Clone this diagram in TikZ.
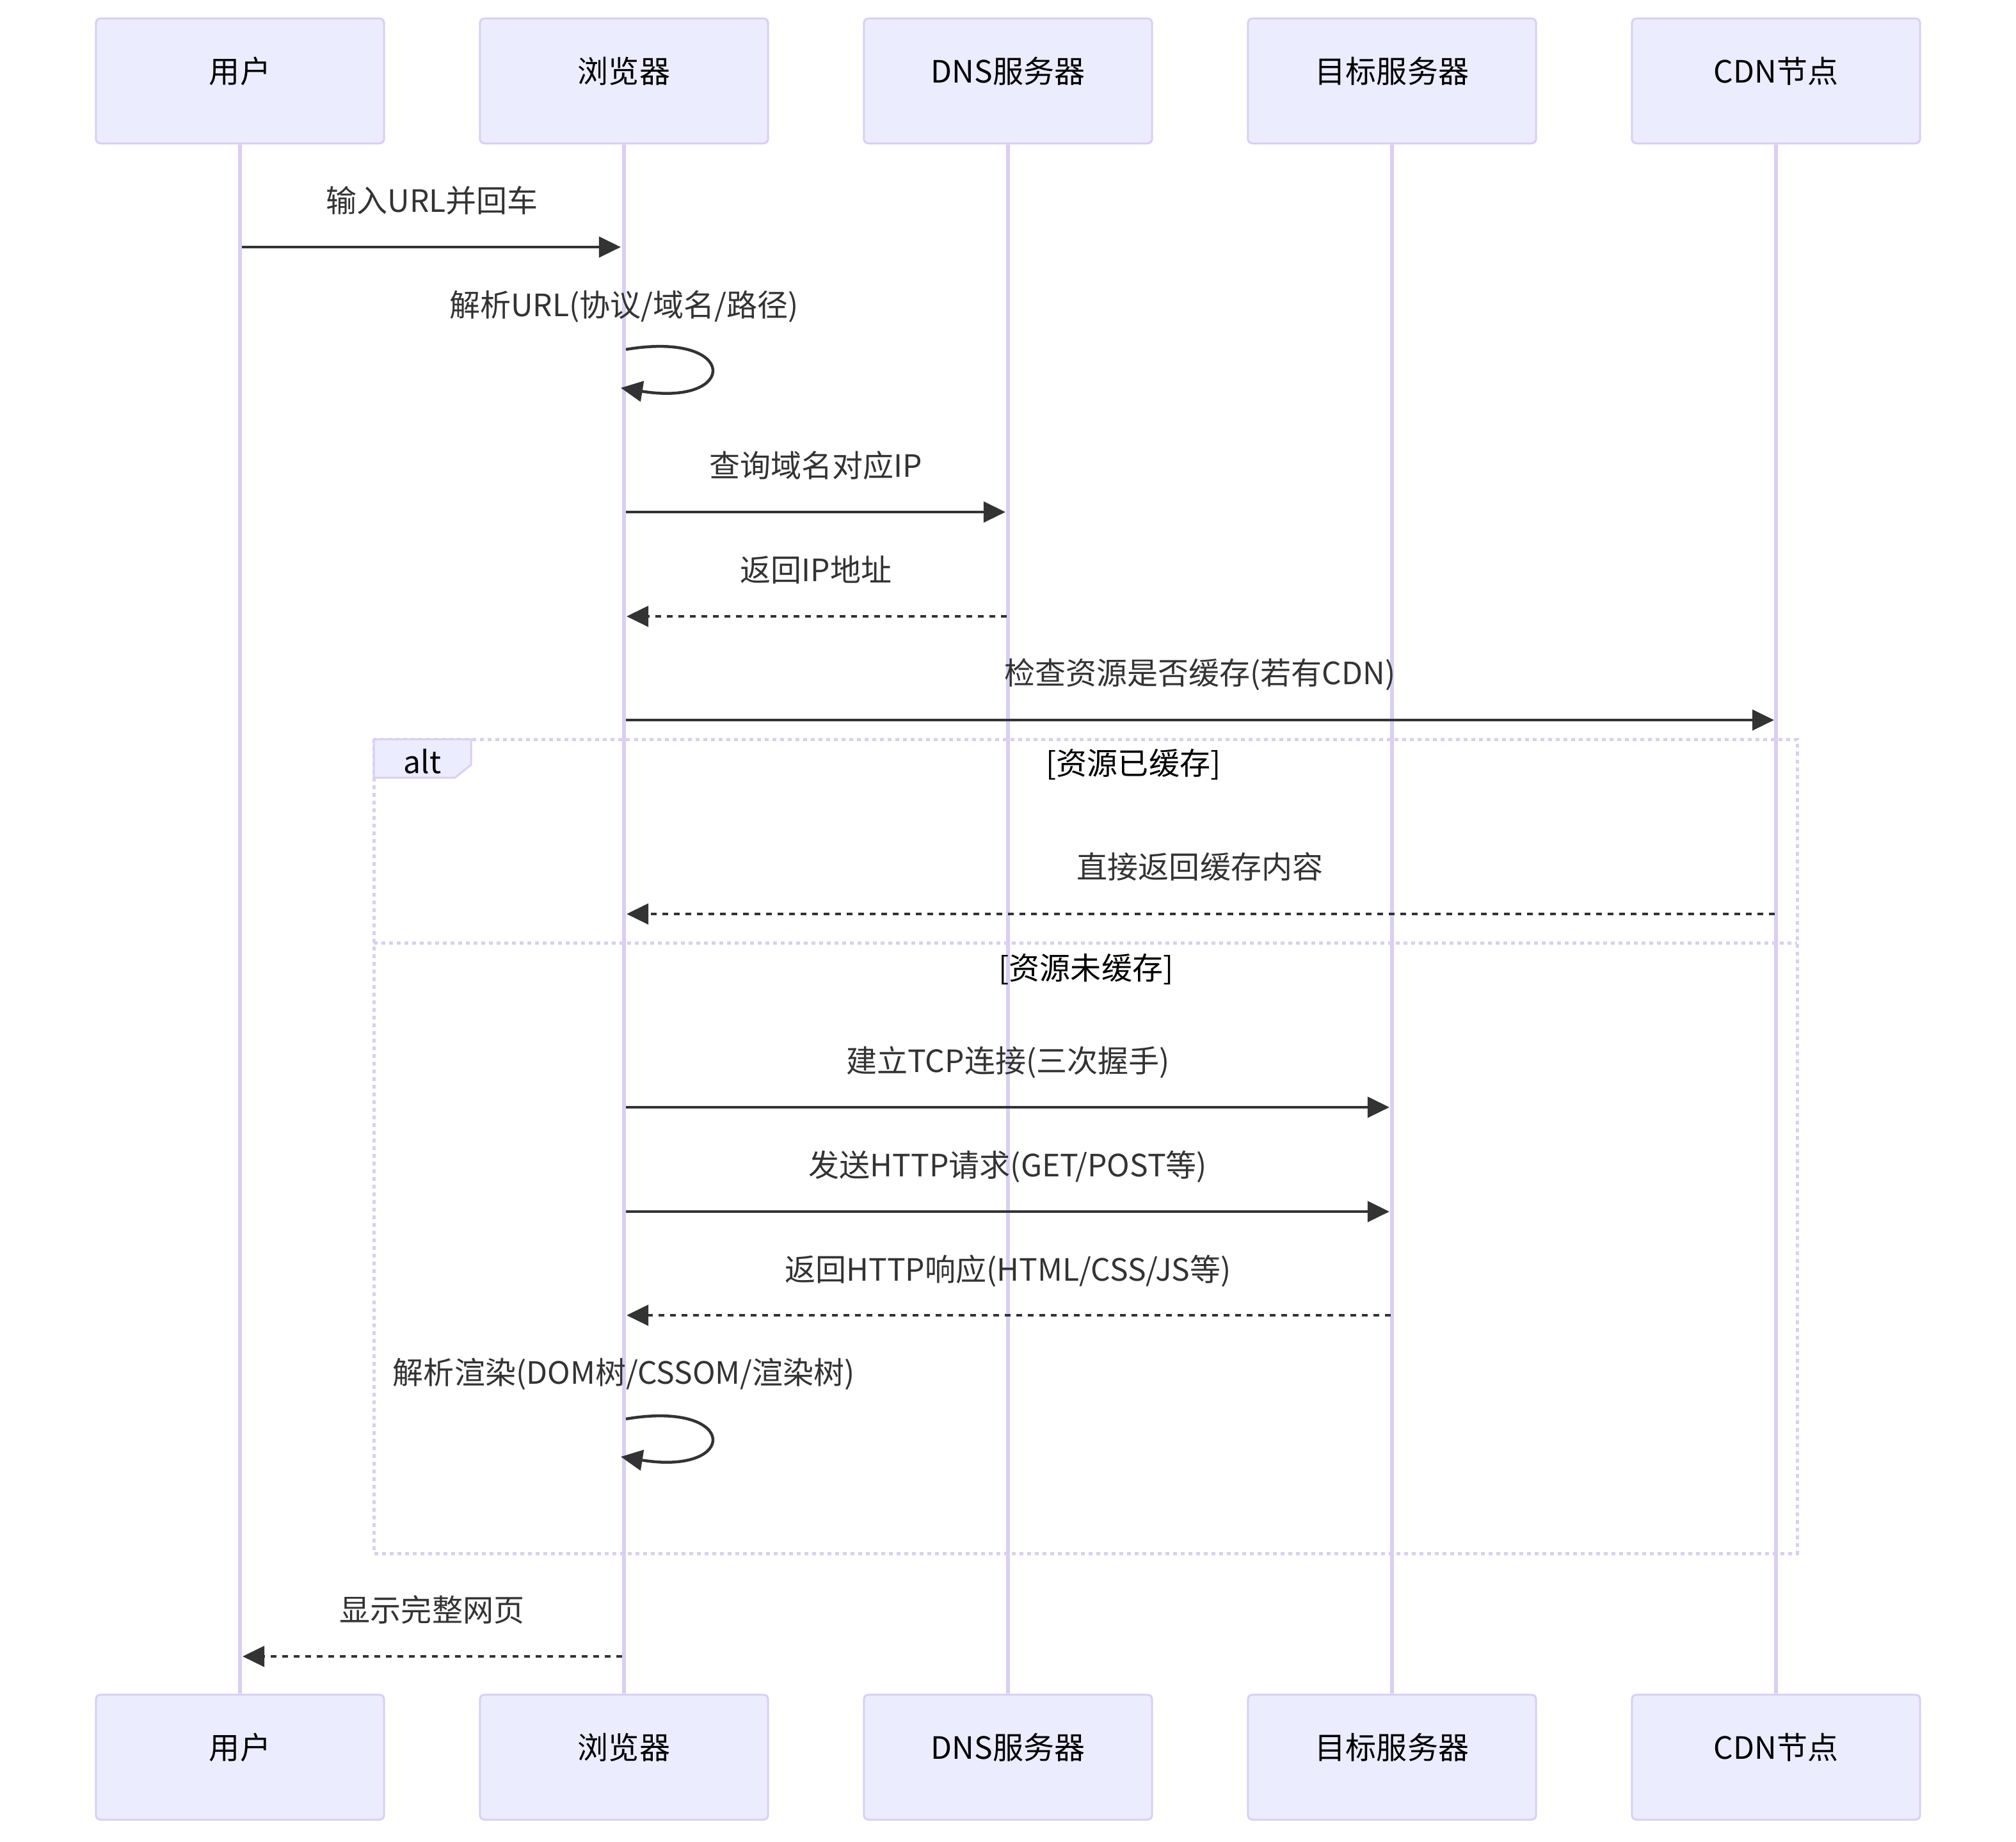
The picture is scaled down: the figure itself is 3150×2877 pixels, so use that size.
\documentclass[tikz,border=0pt]{standalone}
\usepackage{fontspec}
\setmainfont{Noto Sans CJK SC}
\usetikzlibrary{arrows.meta,calc}
\definecolor{actfill}{HTML}{ECECFF}
\definecolor{actline}{HTML}{DACEF3}
\definecolor{ink}{HTML}{333333}
\pgfdeclarelayer{lifelayer}
\pgfsetlayers{lifelayer,main}
\begin{document}
\begin{tikzpicture}[x=0.01cm,y=-0.01cm,
  actor/.style={draw=actline, line width=0.03cm, fill=actfill, rounded corners=0.07cm,
    minimum width=4.5cm, minimum height=1.95cm, inner sep=0pt},
  basetext/.style={font=\fontsize{13.66pt}{16pt}\selectfont, inner sep=0pt,
    text height=0.365cm, text depth=0pt},
  atext/.style={basetext, text=black},
  mtext/.style={basetext, text=ink},
  life/.style={draw=actline, line width=0.06cm},
  msg/.style={draw=ink, line width=0.045cm, -{Triangle[length=0.34cm,width=0.32cm]}},
  reply/.style={msg, dash pattern=on 0.09cm off 0.09cm},
  frameline/.style={draw=actline, line width=0.05cm, dash pattern=on 0.06cm off 0.06cm},
  labelbox/.style={draw=actline, line width=0.03cm, fill=actfill}
]
\useasboundingbox (0,0) rectangle (3150,2877);

% actor boxes (top / bottom)
\node[actor] (uT) at (375,126.5) {};
\node[actor] (bT) at (975,126.5) {};
\node[actor] (dT) at (1575,126.5) {};
\node[actor] (tT) at (2175,126.5) {};
\node[actor] (cT) at (2775,126.5) {};
\node[actor] (uB) at (375,2745.5) {};
\node[actor] (bB) at (975,2745.5) {};
\node[actor] (dB) at (1575,2745.5) {};
\node[actor] (tB) at (2175,2745.5) {};
\node[actor] (cB) at (2775,2745.5) {};

% lifelines (behind the boxes)
\begin{pgfonlayer}{lifelayer}
\draw[life] (uT.south) -- (uB.north);
\draw[life] (bT.south) -- (bB.north);
\draw[life] (dT.south) -- (dB.north);
\draw[life] (tT.south) -- (tB.north);
\draw[life] (cT.south) -- (cB.north);
\end{pgfonlayer}

% actor labels
\node[atext] (uTt) at ($(uT.center)+(0,-15)$) {用户};
\node[atext] (bTt) at ($(bT.center)+(0,-15)$) {浏览器};
\node[atext] (dTt) at ($(dT.center)+(0,-15)$) {DNS服务器};
\node[atext] (tTt) at ($(tT.center)+(0,-15)$) {目标服务器};
\node[atext] (cTt) at ($(cT.center)+(0,-15)$) {CDN节点};
\node[atext] (uBt) at ($(uB.center)+(0,-15)$) {用户};
\node[atext] (bBt) at ($(bB.center)+(0,-15)$) {浏览器};
\node[atext] (dBt) at ($(dB.center)+(0,-15)$) {DNS服务器};
\node[atext] (tBt) at ($(tB.center)+(0,-15)$) {目标服务器};
\node[atext] (cBt) at ($(cB.center)+(0,-15)$) {CDN节点};

% alt frame
\coordinate (fTL) at (584,1155);
\coordinate (fBR) at (2808,2427);
\coordinate (dv) at (0,1473);
\draw[frameline] (fTL) rectangle (fBR);
\draw[frameline] (fTL |- dv) -- (fBR |- dv);
\draw[labelbox] (584,1155) -- (736,1155) -- (736,1195) -- (711,1215) -- (584,1215) -- cycle;
\node[atext] (altlab) at (660,1190) {alt};
\node[atext] (sec1) at (1771,1192) {[资源已缓存]};
\node[atext] (sec2) at (1697,1512) {[资源未缓存]};

% message rows
\coordinate (r1) at (0,386);
\coordinate (s1a) at (0,546);
\coordinate (s1b) at (0,606);
\coordinate (r3) at (0,800);
\coordinate (r4) at (0,963);
\coordinate (r5) at (0,1125);
\coordinate (r6) at (0,1428);
\coordinate (r7) at (0,1730);
\coordinate (r8) at (0,1893);
\coordinate (r9) at (0,2055);
\coordinate (s2a) at (0,2217);
\coordinate (s2b) at (0,2276);
\coordinate (r11) at (0,2588);

% messages
\draw[msg] ($(uT.south|-r1)+(3,0)$) -- ($(bT.south|-r1)+(-5,0)$);
\node[mtext] (l1) at (675,313) {输入URL并回车};

\draw[msg] ($(bT.south|-s1a)+(3,0)$) .. controls +(177,-30) and +(185,30) .. ($(bT.south|-s1b)+(-5,0)$);
\node[mtext] (l2) at (975,476) {解析URL(协议/域名/路径)};

\draw[msg] ($(bT.south|-r3)+(3,0)$) -- ($(dT.south|-r3)+(-4,0)$);
\node[mtext] (l3) at (1275,727) {查询域名对应IP};

\draw[reply] ($(dT.south|-r4)+(-2,0)$) -- ($(bT.south|-r4)+(4,0)$);
\node[mtext] (l4) at (1275,890) {返回IP地址};

\draw[msg] ($(bT.south|-r5)+(3,0)$) -- ($(cT.south|-r5)+(-3,0)$);
\node[mtext] (l5) at (1875,1051) {检查资源是否缓存(若有CDN)};

\draw[reply] ($(cT.south|-r6)+(-2,0)$) -- ($(bT.south|-r6)+(4,0)$);
\node[mtext] (l6) at (1875,1354) {直接返回缓存内容};

\draw[msg] ($(bT.south|-r7)+(3,0)$) -- ($(tT.south|-r7)+(-4,0)$);
\node[mtext] (l7) at (1575,1657) {建立TCP连接(三次握手)};

\draw[msg] ($(bT.south|-r8)+(3,0)$) -- ($(tT.south|-r8)+(-4,0)$);
\node[mtext] (l8) at (1575,1820) {发送HTTP请求(GET/POST等)};

\draw[reply] ($(tT.south|-r9)+(-2,0)$) -- ($(bT.south|-r9)+(4,0)$);
\node[mtext] (l9) at (1575,1983) {返回HTTP响应(HTML/CSS/JS等)};

\draw[msg] ($(bT.south|-s2a)+(3,0)$) .. controls +(177,-30) and +(185,30) .. ($(bT.south|-s2b)+(-5,0)$);
\node[mtext] (l10) at (975,2144) {解析渲染(DOM树/CSSOM/渲染树)};

\draw[reply] ($(bT.south|-r11)+(-3,0)$) -- ($(uT.south|-r11)+(4,0)$);
\node[mtext] (l11) at (675,2515) {显示完整网页};
\end{tikzpicture}
\end{document}
